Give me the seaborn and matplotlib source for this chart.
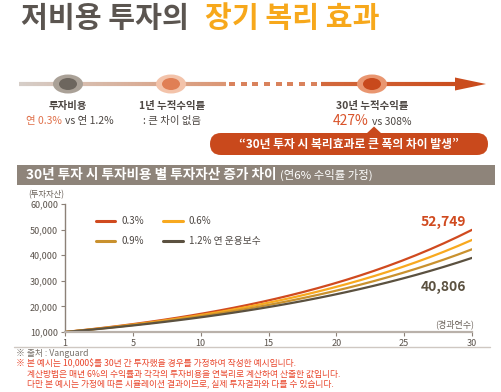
import numpy as np
import pandas as pd
import matplotlib
matplotlib.use("Agg")
import matplotlib.pyplot as plt
from matplotlib.patches import Ellipse, Rectangle, FancyBboxPatch, Polygon
from matplotlib.collections import LineCollection
from matplotlib.lines import Line2D
import seaborn as sns

# ---------------- data ----------------
years = list(range(1, 31))
fee_labels = ["0.3%", "0.6%", "0.9%", "1.2% 연 운용보수"]
fee03 = [10000, 10570, 11172, 11809, 12482, 13194, 13946, 14741, 15581, 16469,
         17408, 18400, 19449, 20558, 21729, 22968, 24277, 25661, 27124, 28670,
         30304, 32031, 33857, 35787, 37827, 39983, 42262, 44671, 47217, 49908]
fee06 = [10000, 10540, 11109, 11709, 12341, 13008, 13710, 14451, 15231, 16053,
         16920, 17834, 18797, 19812, 20882, 22009, 23198, 24451, 25771, 27163,
         28629, 30175, 31805, 33522, 35333, 37241, 39252, 41371, 43605, 45960]
fee09 = [10000, 10510, 11046, 11609, 12201, 12824, 13478, 14165, 14888, 15647,
         16445, 17284, 18165, 19092, 20065, 21089, 22164, 23294, 24482, 25731,
         27043, 28422, 29872, 31395, 32997, 34680, 36448, 38307, 40260, 42314]
fee12 = [10000, 10480, 10983, 11510, 12063, 12642, 13249, 13884, 14551, 15249,
         15981, 16748, 17552, 18395, 19278, 20203, 21173, 22189, 23254, 24371,
         25540, 26766, 28051, 29397, 30808, 32287, 33837, 35461, 37164, 38947]
x_tick_labels = ["1", "5", "10", "15", "20", "25", "30"]
y_ticks = [10000, 20000, 30000, 40000, 50000, 60000]
end_value_high = "52,749"
end_value_low = "40,806"

line_colors = ["#d04a1f", "#f8a91f", "#c9912e", "#5b5140"]

# ---------------- style ----------------
sns.set_theme(style="white")
plt.rcParams["font.family"] = ["Noto Sans CJK KR", "DejaVu Sans"]

W, H = 501, 392
fig = plt.figure(figsize=(W / 100, H / 100), dpi=100)
fig.patch.set_facecolor("white")

bg = fig.add_axes([0, 0, 1, 1])
bg.set_xlim(0, W)
bg.set_ylim(H, 0)
bg.axis("off")
renderer = fig.canvas.get_renderer()

DARK = "#4d4743"


def run(parts, x, y, ha="left", gap=0.0):
    arts, widths = [], []
    for s, kw in parts:
        t = bg.text(0, y, s, va="baseline", ha="left", **kw)
        arts.append(t)
        widths.append(t.get_window_extent(renderer=renderer).width)
    total = sum(widths) + gap * (len(parts) - 1)
    cur = x - total / 2 if ha == "center" else x
    for t, w in zip(arts, widths):
        t.set_x(cur)
        cur += w + gap


# ---- title ----
run([("저비용 투자의", dict(fontsize=21, fontweight="bold", color="#5b5550")),
     ("장기 복리 효과", dict(fontsize=21, fontweight="bold", color="#f7a81b"))],
    21, 27, gap=16)

# ---- timeline ----
ty = 84


def grad_line(x0, x1, c0, c1, lw):
    xs = np.linspace(x0, x1, 60)
    segs = [[(xs[i], ty), (xs[i + 1], ty)] for i in range(len(xs) - 1)]
    a = np.array(matplotlib.colors.to_rgb(c0))
    b = np.array(matplotlib.colors.to_rgb(c1))
    cols = [a + (b - a) * i / (len(segs) - 1) for i in range(len(segs))]
    bg.add_collection(LineCollection(segs, colors=cols, linewidths=lw, capstyle="butt"))


grad_line(19, 226, "#d6cec8", "#db9674", 3.0)
for i in range(8):
    bg.add_patch(Rectangle((229 + i * 11.7, ty - 2.2), 6, 4.4, color="#d9825c", lw=0))
grad_line(321, 458, "#d3693d", "#ca4c1d", 3.0)
bg.add_patch(Polygon([(455, ty - 6.5), (486, ty), (455, ty + 6.5)], closed=True,
                     color="#ca4c1d", lw=0))

for cx, outer, inner in [(68, "#aaa197", "#6d665e"),
                         (171, "#f3c3aa", "#e07f55"),
                         (372, "#e99670", "#c8491c")]:
    bg.add_patch(Ellipse((cx, ty), 30, 19, color=outer, lw=0, zorder=3))
    bg.add_patch(Ellipse((cx, ty), 18, 12, color=inner, lw=0, zorder=4))

run([("투자비용", dict(fontsize=7.5, fontweight="bold", color=DARK))], 68, 109, ha="center")
run([("연 0.3%", dict(fontsize=7.5, color="#e0714b")),
     ("vs 연 1.2%", dict(fontsize=7.5, color=DARK))], 70, 124, ha="center", gap=3)
run([("1년 누적수익률", dict(fontsize=7.5, fontweight="bold", color=DARK))], 172, 109, ha="center")
run([(": 큰 차이 없음", dict(fontsize=7.5, color=DARK))], 172, 124, ha="center")
run([("30년 누적수익률", dict(fontsize=7.5, fontweight="bold", color=DARK))], 372, 109, ha="center")
run([("427%", dict(fontsize=10, color="#d9542b")),
     ("vs 308%", dict(fontsize=7.5, color=DARK))], 372, 125, ha="center", gap=3)

# ---- callout ----
bg.add_patch(FancyBboxPatch((210, 133), 278, 22,
                            boxstyle="round,pad=0,rounding_size=11",
                            color="#c9491c", lw=0))
bg.add_patch(Polygon([(366, 134), (374, 126.5), (382, 134)], closed=True,
                     color="#c9491c", lw=0))
run([("“30년 투자 시 복리효과로 큰 폭의 차이 발생”",
      dict(fontsize=8.5, fontweight="bold", color="white"))], 349, 148, ha="center")

# ---- header bar ----
bg.add_patch(Rectangle((17, 164.5), 478, 20, color="#8e847a", lw=0))
run([("30년 투자 시 투자비용 별 투자자산 증가 차이", dict(fontsize=9.8, fontweight="bold", color="white")),
     ("(연6% 수익률 가정)", dict(fontsize=8.2, color="white"))], 26, 179, gap=4)

bg.text(28, 195, "(투자자산)", fontsize=6, color="#6b625a", va="center", ha="left")
bg.text(474, 324, "(경과연수)", fontsize=6.5, color="#6b625a", va="center", ha="right")

# ---- bottom notes ----
bg.plot([14, 490], [346.5, 346.5], color="#cfc8c2", lw=1)
bg.text(16, 353.5, "※ 출처 : Vanguard", fontsize=6.3, color="#777069", va="center")
RED = "#e9462c"
bg.text(16, 364, "※ 본 예시는 10,000$를 30년 간 투자했을 경우를 가정하여 작성한 예시입니다.",
        fontsize=6.3, color=RED, va="center")
bg.text(27, 374, "계산방법은 매년 6%의 수익률과 각각의 투자비용을 연복리로 계산하여 산출한 값입니다.",
        fontsize=6.3, color=RED, va="center")
bg.text(27, 384, "다만 본 예시는 가정에 따른 시뮬레이션 결과이므로, 실제 투자결과와 다를 수 있습니다.",
        fontsize=6.3, color=RED, va="center")

# ---------------- chart ----------------
ax = fig.add_axes([65 / W, (H - 332) / H, 407 / W, 128 / H])
ax.patch.set_alpha(0)
df = pd.DataFrame({
    "year": years * 4,
    "value": fee03 + fee06 + fee09 + fee12,
    "fee": sum([[lab] * len(years) for lab in fee_labels], []),
})
sns.lineplot(data=df, x="year", y="value", hue="fee", hue_order=fee_labels,
             palette=line_colors, linewidth=1.6, ax=ax, legend=False)
ax.set_xlim(1, 30)
ax.set_ylim(10000, 60000)
ax.set_xticks(np.linspace(1, 30, len(x_tick_labels)))
ax.set_xticklabels(x_tick_labels)
ax.set_yticks(y_ticks)
ax.set_yticklabels([f"{v:,}" for v in y_ticks])
ax.set_xlabel("")
ax.set_ylabel("")
for s in ["top", "right"]:
    ax.spines[s].set_visible(False)
ax.spines["left"].set_color("#8c8178")
ax.spines["left"].set_linewidth(1.0)
ax.spines["bottom"].set_color("#b9b1aa")
ax.spines["bottom"].set_linewidth(1.6)
ax.tick_params(axis="y", direction="out", length=3, width=0.8, color="#8c8178",
               labelsize=6.5, labelcolor="#5a524b", pad=2, left=True)
ax.tick_params(axis="x", direction="out", length=3, width=0.8, color="#8c8178",
               labelsize=6.5, labelcolor="#5a524b", pad=2, bottom=True)
ax.grid(False)

handles = [Line2D([], [], color=c, lw=2.2) for c in line_colors]
order = [0, 2, 1, 3]
ax.legend([handles[i] for i in order], [fee_labels[i] for i in order], ncol=2,
          loc="upper left", bbox_to_anchor=(96 / W, 1 - 216 / H),
          bbox_transform=fig.transFigure, frameon=False, fontsize=7,
          handlelength=2.0, handletextpad=0.6, columnspacing=2.0,
          labelspacing=1.05, borderpad=0, borderaxespad=0,
          labelcolor="#4d4743")

ax.text(0.93, 0.86, end_value_high, transform=ax.transAxes, fontsize=10,
        fontweight="bold", color="#d04a1f", ha="center", va="center")
ax.text(0.93, 0.35, end_value_low, transform=ax.transAxes, fontsize=10,
        fontweight="bold", color="#5b5140", ha="center", va="center")

fig.savefig("out.png", dpi=100, facecolor="white")
